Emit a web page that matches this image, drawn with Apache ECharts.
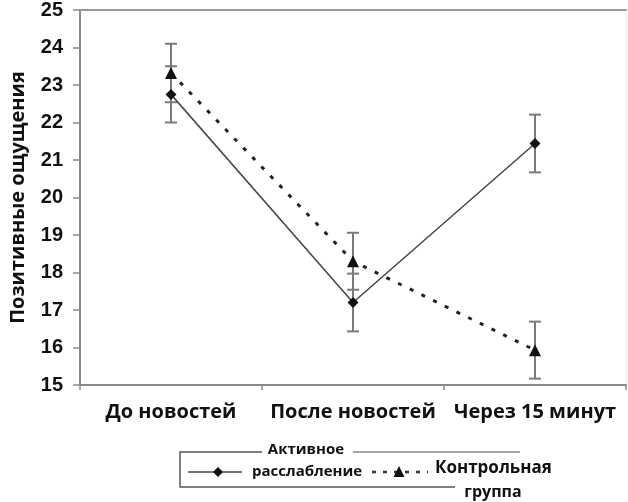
<!DOCTYPE html>
<html>
<head>
<meta charset="utf-8">
<script src="https://cdn.jsdelivr.net/npm/echarts@6/dist/echarts.min.js"></script>
<style>html,body{margin:0;padding:0;background:#fff;}#c{width:628px;height:502px;}</style>
</head>
<body>
<div id="c"></div>
<script>
var categories = ['До новостей', 'После новостей', 'Через 15 минут'];
var activeMean = [22.75, 17.2, 21.44];
var activeErr = [0.75, 0.77, 0.77];
var controlMean = [23.32, 18.3, 15.93];
var controlErr = [0.78, 0.76, 0.76];
var yTicks = [15, 25, 1];

var chart = echarts.init(document.getElementById('c'));

function errSeries(name, mean, err) {
  return {
    type: 'custom',
    name: name + '_err',
    z: 1,
    data: mean.map(function (m, i) { return [i, m - err[i], m + err[i]]; }),
    renderItem: function (params, api) {
      var lo = api.coord([api.value(0), api.value(1)]);
      var hi = api.coord([api.value(0), api.value(2)]);
      var w = 6;
      var st = { stroke: '#7a7a7a', lineWidth: 2 };
      return {
        type: 'group',
        children: [
          { type: 'line', shape: { x1: lo[0], y1: lo[1], x2: hi[0], y2: hi[1] }, style: st },
          { type: 'line', shape: { x1: lo[0] - w, y1: lo[1], x2: lo[0] + w, y2: lo[1] }, style: st },
          { type: 'line', shape: { x1: hi[0] - w, y1: hi[1], x2: hi[0] + w, y2: hi[1] }, style: st }
        ]
      };
    },
    silent: true
  };
}

var bold = 'bold';
var fam = '"Open Sans", "Noto Sans", sans-serif';

chart.setOption({
  animation: false,
  backgroundColor: '#fff',
  grid: { left: 76, top: 10, right: 2, bottom: 117 },
  xAxis: [{
    type: 'category',
    data: categories,
    boundaryGap: true,
    axisLine: { lineStyle: { color: '#8a8a8a', width: 2 } },
    axisTick: { show: true, length: 5, inside: false, lineStyle: { color: '#8a8a8a', width: 1.5 } },
    axisLabel: { interval: 0, color: '#111', fontSize: 20, fontWeight: bold, fontFamily: fam, margin: 17 },
    splitLine: { show: false }
  }, {
    type: 'category',
    data: categories,
    position: 'top',
    axisLine: { lineStyle: { color: '#999', width: 2 } },
    axisTick: { show: false },
    axisLabel: { show: false }
  }],
  yAxis: [{
    type: 'value',
    min: yTicks[0], max: yTicks[1], interval: yTicks[2],
    name: 'Позитивные ощущения',
    nameLocation: 'middle',
    nameGap: 52,
    nameTextStyle: { color: '#111', fontSize: 20, fontWeight: bold, fontFamily: fam },
    axisLine: { show: true, lineStyle: { color: '#8a8a8a', width: 2 } },
    axisTick: { show: true, length: 7, lineStyle: { color: '#8a8a8a', width: 1.5 } },
    axisLabel: { color: '#111', fontSize: 20, fontWeight: bold, fontFamily: '"Liberation Sans", Arial, sans-serif', margin: 17 },
    splitLine: { show: false }
  }, {
    type: 'value',
    position: 'right',
    min: yTicks[0], max: yTicks[1], interval: yTicks[2],
    axisLine: { show: true, lineStyle: { color: '#ececec', width: 1 } },
    axisTick: { show: false }, axisLabel: { show: false }, splitLine: { show: false }
  }],
  series: [
    errSeries('Активное расслабление', activeMean, activeErr),
    errSeries('Контрольная группа', controlMean, controlErr),
    {
      type: 'line', name: 'Активное расслабление', data: activeMean, z: 3,
      symbol: 'diamond', symbolSize: 11,
      itemStyle: { color: '#111' },
      lineStyle: { color: '#4a4a4a', width: 1.6 }
    },
    {
      type: 'line', name: 'Контрольная группа', data: controlMean, z: 3,
      symbol: 'triangle', symbolSize: 12,
      itemStyle: { color: '#111' },
      lineStyle: { color: '#222', width: 3, type: [4, 9] }
    }
  ],
  graphic: [
    { type: 'polyline', shape: { points: [[262, 452], [180, 452], [180, 487], [455, 487]] }, style: { stroke: '#555', lineWidth: 1.5, fill: null } },
    { type: 'line', shape: { x1: 353, y1: 452, x2: 520, y2: 452 }, style: { stroke: '#888', lineWidth: 1.5 } },
    { type: 'line', shape: { x1: 188, y1: 472, x2: 242, y2: 472 }, style: { stroke: '#444', lineWidth: 1.6 } },
    { type: 'polygon', shape: { points: [[218, 467], [223, 472], [218, 477], [213, 472]] }, style: { fill: '#111' } },
    { type: 'text', x: 306, y: 450, style: { text: 'Активное', fill: '#111', font: 'bold 15px "Open Sans", sans-serif', align: 'center', verticalAlign: 'middle' } },
    { type: 'text', x: 252, y: 472, style: { text: 'расслабление', fill: '#111', font: 'bold 15px "Open Sans", sans-serif', align: 'left', verticalAlign: 'middle' } },
    { type: 'line', shape: { x1: 372, y1: 472, x2: 428, y2: 472 }, style: { stroke: '#333', lineWidth: 2.5, lineDash: [4, 7] } },
    { type: 'polygon', shape: { points: [[399, 466], [404.5, 477], [393.5, 477]] }, style: { fill: '#111' } },
    { type: 'text', x: 435, y: 468, style: { text: 'Контрольная', fill: '#111', font: 'bold 17px "Open Sans", sans-serif', align: 'left', verticalAlign: 'middle' } },
    { type: 'text', x: 493, y: 492, style: { text: 'группа', fill: '#111', font: 'bold 16px "Open Sans", sans-serif', align: 'center', verticalAlign: 'middle' } }
  ]
});
</script>
</body>
</html>
